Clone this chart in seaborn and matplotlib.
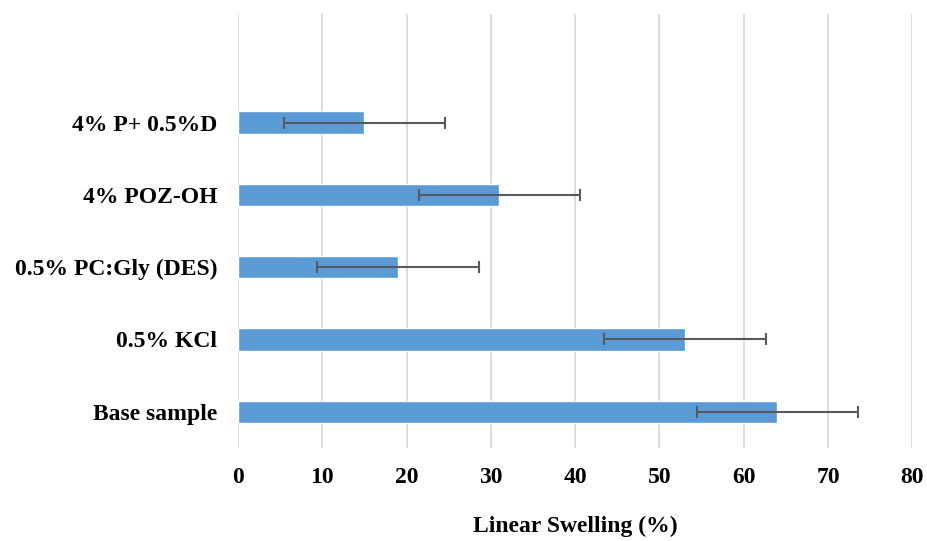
import matplotlib
matplotlib.use("Agg")
import matplotlib.pyplot as plt
import numpy as np
import pandas as pd
import seaborn as sns


samples = ["4% P+ 0.5%D", "4% POZ-OH", "0.5% PC:Gly (DES)", "0.5% KCl", "Base sample"]
swelling = [15.0, 31.0, 19.0, 53.0, 64.0]
swelling_err = [9.55, 9.55, 9.6, 9.6, 9.55]
x_ticks = [0, 10, 20, 30, 40, 50, 60, 70, 80]

BAR_COLOR = "#5B9BD5"
ERR_COLOR = "#595959"


def main() -> None:
    df = pd.DataFrame({"sample": samples, "swelling": swelling, "err": swelling_err})

    sns.set_theme(style="white")
    plt.rcParams["font.family"] = ["Liberation Serif", "DejaVu Serif"]
    plt.rcParams["text.color"] = "black"
    plt.rcParams["xtick.color"] = "black"
    plt.rcParams["ytick.color"] = "black"
    plt.rcParams["axes.labelcolor"] = "black"

    fig = plt.figure(figsize=(9.28, 5.41), dpi=100)
    ax = fig.add_axes([0.2565, 0.172, 0.7265, 0.802])

    sns.barplot(
        data=df,
        x="swelling",
        y="sample",
        order=samples,
        color=BAR_COLOR,
        width=0.31,
        errorbar=None,
        saturation=1,
        ax=ax,
        zorder=3,
    )
    pos = np.arange(len(samples))
    ax.errorbar(
        df["swelling"], pos, xerr=df["err"], fmt="none",
        ecolor=ERR_COLOR, elinewidth=1.5, capsize=4.5, capthick=1.5, zorder=4,
    )

    ax.set_xlim(0, 80)
    ax.set_ylim(len(samples) - 0.5, -1.5)
    ax.set_xticks(x_ticks)
    ax.grid(axis="x", color="#D9D9D9", linewidth=1.3, zorder=0)
    ax.grid(axis="y", visible=False)
    for side in ["top", "right", "bottom", "left"]:
        ax.spines[side].set_visible(False)
    ax.tick_params(axis="both", length=0, labelsize=17)
    ax.tick_params(axis="x", pad=13.5)
    ax.tick_params(axis="y", pad=15)
    for lbl in ax.get_xticklabels() + ax.get_yticklabels():
        lbl.set_fontweight("bold")
    ax.set_ylabel("")
    ax.set_xlabel("Linear Swelling (%)", fontsize=17, fontweight="bold", labelpad=20)

    fig.savefig("out.png", dpi=100)
    plt.close(fig)


if __name__ == "__main__":
    main()
